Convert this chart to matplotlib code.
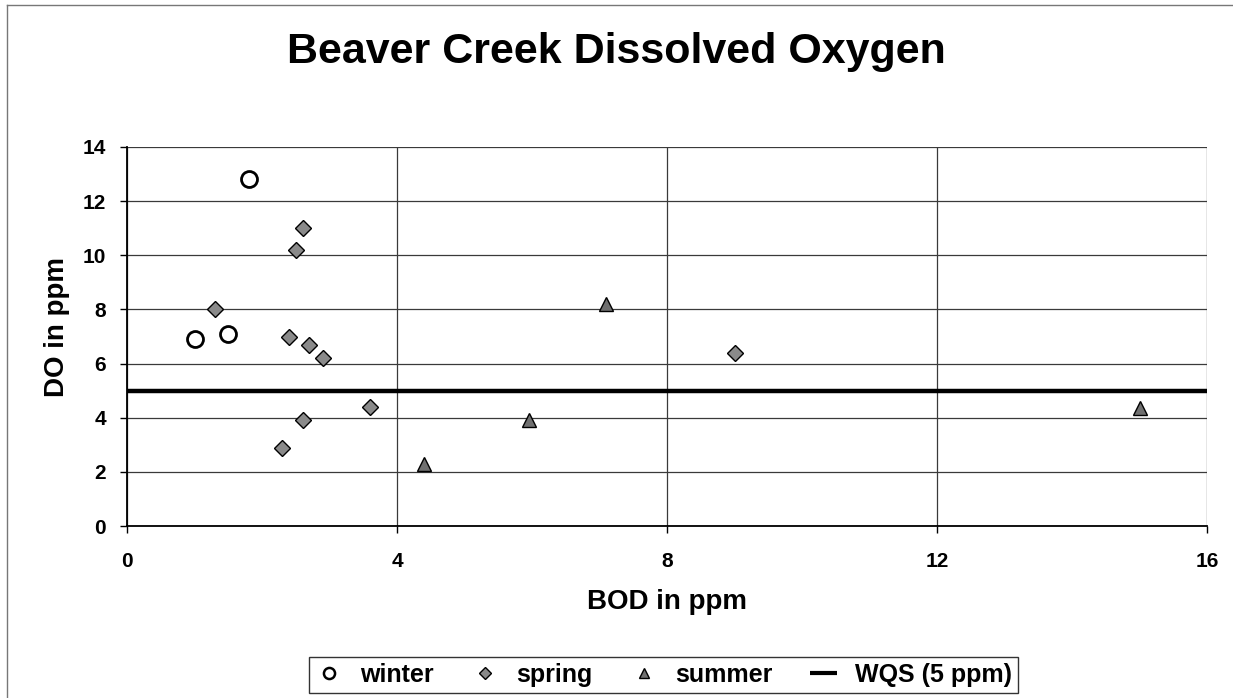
import matplotlib.pyplot as plt
from matplotlib.lines import Line2D

plt.rcParams['font.family'] = ['Liberation Sans', 'DejaVu Sans']
plt.rcParams['font.weight'] = 'bold'

# data
winter_bod = [1.0, 1.5, 1.8]
winter_do = [6.9, 7.1, 12.8]

spring_bod = [1.3, 2.3, 2.4, 2.5, 2.6, 2.6, 2.7, 2.9, 3.6, 9.0]
spring_do = [8.0, 2.9, 7.0, 10.2, 11.0, 3.9, 6.7, 6.2, 4.4, 6.4]

summer_bod = [4.4, 5.95, 7.1, 15.0]
summer_do = [2.3, 3.9, 8.2, 4.35]

wqs_x = [0, 16]
wqs_y = [5, 5]

x_ticks = [0, 4, 8, 12, 16]
y_ticks = [0, 2, 4, 6, 8, 10, 12, 14]

fig = plt.figure(figsize=(12.33, 6.98), dpi=100)
ax = fig.add_axes([0.103, 0.2464, 0.876, 0.543])

ax.plot(winter_bod, winter_do, ls='none', marker='o', ms=11.5, mfc='white',
        mec='black', mew=2.0, label='winter', zorder=4)
ax.plot(spring_bod, spring_do, ls='none', marker='D', ms=8, mfc='#8a8a8a',
        mec='black', mew=1.0, label='spring', zorder=4)
ax.plot(summer_bod, summer_do, ls='none', marker='^', ms=10, mfc='#707070',
        mec='black', mew=1.0, label='summer', zorder=4)
ax.plot(wqs_x, wqs_y, color='black', lw=3.2, label='WQS (5 ppm)', zorder=3,
        solid_capstyle='butt', clip_on=False)

ax.set_xlim(0, 16)
ax.set_ylim(0, 14)
ax.set_xticks(x_ticks)
ax.set_yticks(y_ticks)
ax.grid(True, color='#3a3a3a', lw=0.9)
ax.set_axisbelow(True)
for side in ['top', 'right']:
    ax.spines[side].set_visible(False)
for side in ['left', 'bottom']:
    ax.spines[side].set_linewidth(1.3)
ax.tick_params(direction='out', length=5, width=1, labelsize=15)
ax.tick_params(axis='y', pad=10)
ax.tick_params(axis='x', pad=14)
for lab in ax.get_xticklabels() + ax.get_yticklabels():
    lab.set_fontweight('bold')

ax.set_xlabel('BOD in ppm', fontsize=20, fontweight='bold', va='center')
ax.set_ylabel('DO in ppm', fontsize=20, fontweight='bold', va='center')
ax.xaxis.set_label_coords(0.5, -0.2)
ax.yaxis.set_label_coords(-0.0650, 0.525)
fig.text(0.4996, 0.925, 'Beaver Creek Dissolved Oxygen', fontsize=31,
         fontweight='bold', ha='center', va='center')

leg = fig.legend(loc='center', bbox_to_anchor=(0.538, 0.033), ncol=4,
                 frameon=True, fancybox=False, fontsize=18, handlelength=1.1,
                 handletextpad=0.7, columnspacing=1.5, borderpad=0.25)
leg.get_frame().set_edgecolor('black')
leg.get_frame().set_linewidth(1.0)
for t in leg.get_texts():
    t.set_fontweight('bold')
hs = leg.legend_handles
hs[0].set_markersize(8)
hs[0].set_markeredgewidth(1.8)
hs[1].set_markersize(6)
hs[2].set_markersize(7)
hs[3].set_linewidth(3)

# outer chart border (left and top edges)
fig.add_artist(Line2D([0.0057, 0.0057], [0.0, 0.993], color='#777777', lw=1.0))
fig.add_artist(Line2D([0.0057, 1.0], [0.993, 0.993], color='#777777', lw=1.0))

fig.savefig('out.png', dpi=100)
